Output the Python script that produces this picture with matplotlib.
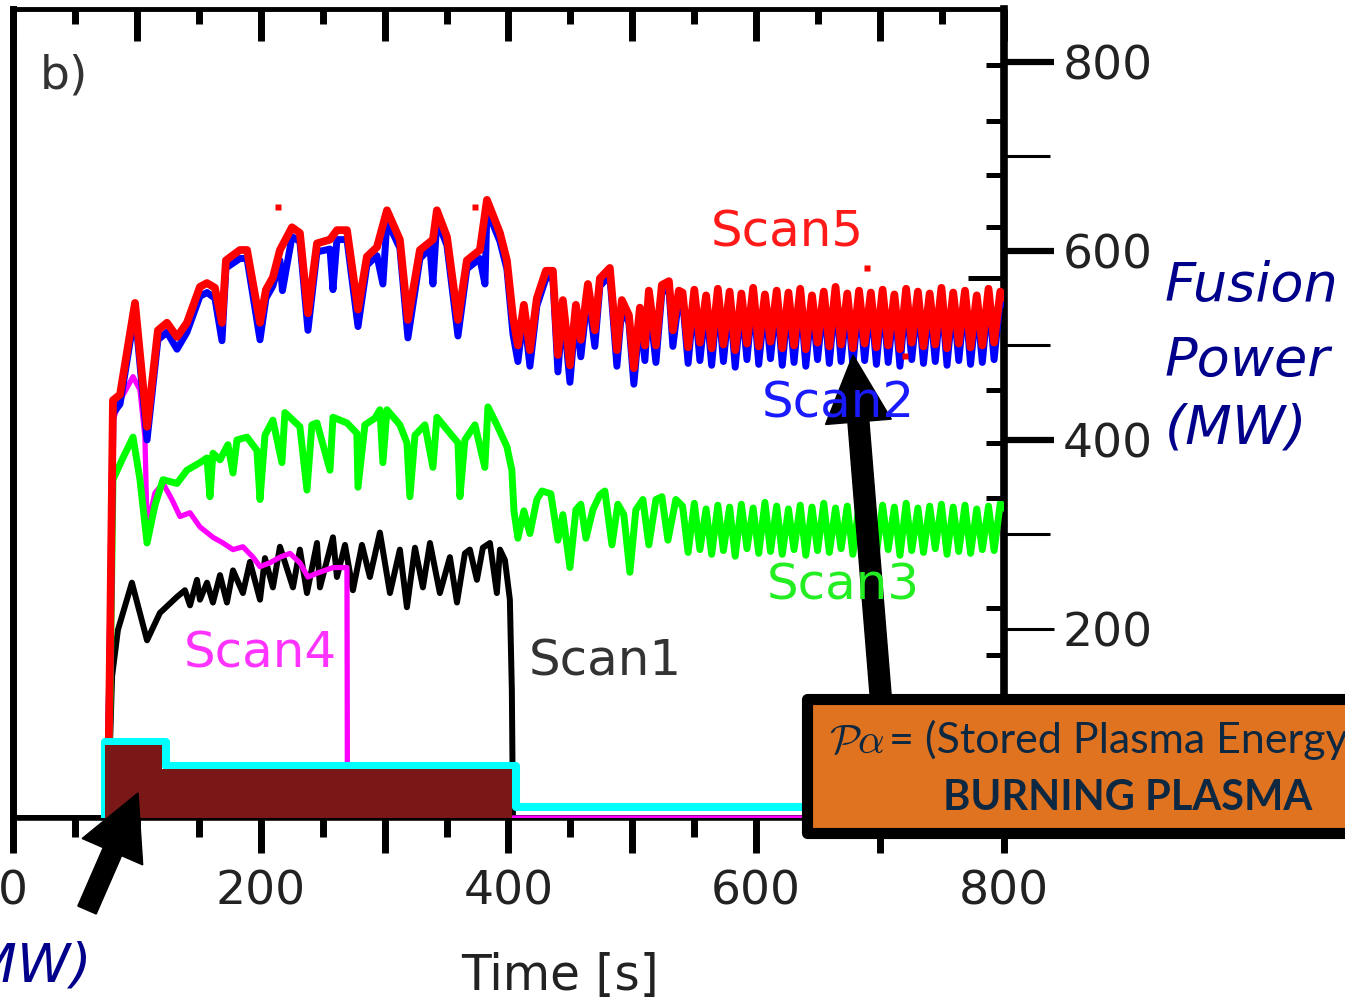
import matplotlib
matplotlib.use("Agg")
import matplotlib.pyplot as plt
from matplotlib.patches import Rectangle, FancyArrow
from matplotlib.ticker import MultipleLocator, FixedLocator, FuncFormatter

plt.rcParams['font.family'] = ['DejaVu Sans']
plt.rcParams['mathtext.fontset'] = 'cm'

# values: time [s] -> fusion power [MW]
# Scan5 (red), start-up and flat-top up to 400 s
scan5_t = [76.5, 78.3, 80.7, 86.4, 98.5, 108.2, 117.0, 124.3, 132.4, 140.4, 150.9, 156.6,
           163.0, 168.7, 171.9, 183.2, 188.9, 199.4, 204.2, 209.8, 215.5, 225.2, 231.6, 238.1,
           245.4, 255.9, 261.5, 269.6, 278.5, 285.7, 293.8, 301.9, 312.3, 318.8, 328.5, 339.0,
           342.2, 350.3, 359.2, 366.4, 376.9, 382.6, 393.1, 398.7, 403.6]
scan5_p = [0, 178, 442, 448, 545, 414, 516, 524, 509, 524, 562, 566,
           561, 524, 590, 601, 601, 524, 559, 572, 601, 625, 619, 534,
           608, 612, 622, 622, 538, 594, 604, 643, 612, 527, 601, 612,
           643, 615, 527, 590, 601, 654, 619, 590, 530]
# Scan2 (blue)
scan2_t = [75.9, 78.3, 80.7, 86.4, 98.5, 108.2, 117.0, 124.3, 132.4, 140.4, 150.9, 156.6,
           163.0, 168.7, 171.9, 183.2, 188.9, 199.4, 204.2, 209.8, 215.5, 217.5, 225.2, 231.6,
           238.1, 245.4, 255.9, 258.3, 261.5, 269.6, 278.5, 285.7, 293.8, 298.6, 301.9, 312.3,
           318.8, 328.5, 336.6, 339.0, 342.2, 350.3, 359.2, 366.4, 376.9, 381.0, 382.6, 393.1,
           398.7, 403.6]
scan2_p = [0, 165, 428, 438, 536, 400, 506, 514, 496, 514, 552, 556,
           550, 505, 582, 592, 592, 506, 550, 563, 590, 558, 615, 610,
           516, 599, 602, 559, 612, 612, 520, 585, 595, 565, 632, 603,
           508, 592, 603, 565, 633, 606, 510, 581, 592, 565, 644, 610,
           581, 512]
# 400-540 s, shared by Scan5 / Scan2
post_t = [407.6, 412.4, 417.3, 422.9, 430.2, 435.8, 439.9, 443.9, 449.6, 454.4, 458.4, 464.1,
          469.7, 473.8, 481.8, 487.5, 491.5, 497.2, 501.2, 506.1, 510.1, 513.3, 519.0, 523.8,
          529.5, 532.7, 537.5]
scan5_post = [500, 543, 495, 550, 579, 579, 490, 548, 479, 543, 506, 565,
              516, 571, 582, 495, 548, 532, 476, 540, 500, 558, 500, 564,
              568, 516, 558]
scan2_post = [483, 535, 478, 542, 571, 572, 472, 540, 461, 536, 488, 557,
              499, 563, 574, 478, 540, 524, 459, 532, 484, 550, 482, 556,
              560, 499, 550]
# steady burn 540-800 s (top / dip pairs)
steady_t = [540.5, 545, 550, 554.5, 559.5, 564, 569, 573.5, 578.5, 583,
            588, 592.5, 597.5, 602, 607, 611.5, 616.5, 621, 626, 630.5,
            635.5, 640, 645, 649.5, 654.5, 659, 664, 668.5, 673.5, 678,
            683, 687.5, 692.5, 697, 702, 706.5, 711.5, 716, 721, 725.5,
            730.5, 735, 740, 744.5, 749.5, 754, 759, 763.5, 768.5, 773,
            778, 782.5, 787.5, 792, 797, 800]
scan5_steady = [556, 498, 559, 503, 553, 497, 560, 501, 557, 495,
                555, 502, 561, 499, 554, 504, 558, 497, 556, 500,
                560, 496, 553, 503, 557, 499, 562, 501, 555, 497,
                558, 502, 556, 498, 559, 500, 554, 496, 560, 503,
                557, 499, 555, 501, 561, 497, 556, 502, 558, 498,
                553, 500, 560, 503, 557, 552]
scan2_steady = [549, 481, 552, 484, 546, 479, 553, 483, 550, 477,
                548, 485, 554, 480, 547, 486, 551, 479, 549, 482,
                553, 478, 546, 485, 550, 481, 555, 483, 548, 479,
                551, 484, 549, 480, 552, 482, 547, 478, 553, 485,
                550, 481, 548, 483, 554, 479, 549, 484, 551, 480,
                546, 482, 553, 485, 550, 545]
# Scan3 (green)
scan3_t = [76.5, 78.3, 80.7, 88.0, 96.9, 102.5, 108.2, 114.6, 121.1, 132.4, 140.4, 150.9,
           156.6, 159.0, 161.4, 167.1, 173.5, 177.6, 180.8, 188.9, 196.9, 199.4, 203.4, 209.8,
           217.1, 219.5, 231.6, 237.3, 241.3, 245.4, 255.9, 258.3, 269.6, 277.6, 278.5, 284.1,
           292.2, 296.2, 298.6, 301.9, 312.3, 318.0, 320.4, 324.5, 332.5, 339.0, 342.2, 350.3,
           359.2, 360.8, 364.8, 372.9, 380.9, 383.4, 390.6, 398.7, 402.7, 404.4,
           407.6, 412.4, 417.3, 422.9, 427.0, 434.2, 439.9, 443.9, 449.6, 454.4, 458.4, 462.5,
           468.1, 473.8, 477.8, 483.5, 488.3, 493.1, 498.0, 502.8, 508.5, 513.3, 519.0, 523.8,
           528.7, 535.1]
scan3_p = [0, 125, 358, 379, 403, 358, 291, 331, 358, 354, 368, 376,
           381, 340, 386, 379, 395, 365, 400, 403, 389, 337, 405, 421,
           376, 429, 414, 347, 416, 418, 368, 424, 418, 407, 350, 416,
           423, 432, 376, 432, 416, 397, 340, 405, 416, 371, 424, 411,
           397, 340, 400, 416, 371, 435, 416, 393, 368, 325,
           296, 325, 301, 337, 346, 343, 294, 321, 265, 326, 332, 296,
           326, 342, 346, 289, 332, 321, 260, 326, 337, 289, 337, 340,
           294, 337]
scan3_steady = [330, 281, 333, 284, 327, 279, 331, 283, 329, 277,
                332, 285, 328, 280, 334, 282, 330, 279, 327, 284,
                331, 278, 329, 283, 333, 281, 328, 285, 330, 279,
                332, 282, 327, 280, 331, 284, 329, 278, 333, 283,
                328, 281, 330, 285, 332, 279, 329, 282, 331, 280,
                327, 284, 330, 283, 333, 329]
# Scan1 (black)
scan1_t = [0, 76.5, 80.0, 84.7, 96.0, 108.2, 118.6, 132.4, 138.8, 142.9, 148.5, 150.9,
           156.6, 161.4, 167.1, 172.7, 177.6, 185.6, 191.3, 199.4, 203.4, 209.8, 215.5, 226.0,
           231.6, 237.3, 245.4, 247.8, 258.3, 261.5, 268.0, 274.4, 281.7, 288.1, 296.2, 304.3,
           312.3, 318.0, 324.5, 330.9, 336.6, 344.6, 352.7, 358.4, 364.8, 368.8, 374.5, 379.3,
           385.0, 390.6, 393.1, 397.1, 401.1, 402.7, 403.6, 800]
scan1_p = [0, 0, 150, 199, 249, 188, 217, 234, 241, 225, 252, 231,
           249, 228, 257, 228, 262, 238, 271, 231, 275, 244, 287, 244,
           284, 238, 291, 244, 297, 255, 289, 241, 289, 255, 302, 238,
           284, 223, 286, 244, 291, 238, 276, 228, 280, 284, 252, 286,
           291, 238, 284, 273, 231, 135, 0, 0]
# Scan4 (magenta)
scan4_t = [75.9, 78.3, 80.7, 86.4, 96.9, 102.5, 106.5, 108.2, 114.6, 121.1,
           128.3, 134.8, 142.9, 150.9, 161.4, 169.5, 177.6, 185.6, 193.7, 199.4,
           207.4, 215.5, 223.6, 231.6, 238.1, 245.4, 258.3, 269.6, 270.0, 800]
scan4_p = [0, 231, 421, 442, 467, 453, 403, 308, 344, 354,
           337, 319, 323, 308, 297, 291, 284, 287, 276, 266,
           270, 276, 280, 270, 255, 259, 265, 265, 0, 0]
# stray Scan5 points
dots_t = [213.9, 372.9, 689.3, 720.0]
dots_p = [647, 647, 582, 489]
# auxiliary heating (cyan) and the highlighted block
aux_t = [74.5, 74.5, 123.5, 123.5, 406, 406, 800]
aux_p = [0, 80, 80, 55, 55, 12, 12]
block_t = [74.5, 120, 120, 403]
block_p = [77, 77, 52, 52]

W, H = 1345, 1002
fig = plt.figure(figsize=(W / 100, H / 100), dpi=100)

def px_box(x0, y0, x1, y1):
    return [x0 / W, 1 - y1 / H, (x1 - x0) / W, (y1 - y0) / H]

ax = fig.add_axes(px_box(13, 9, 1004, 818))
ax_in = ax.twinx()
ax_top = ax.twiny()
ymax = 856

ax.plot(scan1_t, scan1_p, color='black', lw=4.3, zorder=3)
ax.plot(scan4_t, scan4_p, color='#ff00ff', lw=3.8, zorder=3)
ax.plot(scan3_t + steady_t, scan3_p + scan3_steady, color='#00ff00', lw=5, zorder=3)
ax.plot(scan2_t + post_t + steady_t, scan2_p + scan2_post + scan2_steady,
        color='#0000ff', lw=5, zorder=3)
ax.plot(scan5_t + post_t + steady_t, scan5_p + scan5_post + scan5_steady,
        color='#ff0000', lw=5.6, zorder=3)
ax.plot(dots_t, dots_p, 's', color='#ff0000', ms=4, mec='none', zorder=3)
ax.plot(aux_t, aux_p, color='#00ffff', lw=5.8, zorder=3)
ax.fill_between(block_t, 0, block_p, color='#7a1818', lw=0, zorder=3.5)

ax.set_xlim(0, 800)
ax.set_ylim(0, ymax)
ax.xaxis.set_major_locator(MultipleLocator(100))
ax.xaxis.set_minor_locator(MultipleLocator(50))
ax.xaxis.set_major_formatter(FuncFormatter(lambda v, p: f"{v:.0f}" if round(v) % 200 == 0 else ""))
ax.tick_params(axis='x', which='major', direction='out', length=25, width=5,
               labelsize=34, pad=12, labelcolor='#222222')
ax.tick_params(axis='x', which='minor', direction='out', length=14, width=5)

ax.yaxis.tick_right()
ax.yaxis.set_major_locator(FixedLocator([200, 400, 600, 800]))
ax.yaxis.set_minor_locator(FixedLocator([300, 500, 700]))
ax.tick_params(axis='y', which='major', direction='out', length=36, width=4.5,
               labelsize=34, pad=6, labelcolor='#222222', left=False, right=True)
ax.tick_params(axis='y', which='minor', direction='out', length=33, width=2.2,
               left=False, right=True)
ax.yaxis.get_major_ticks()[0].tick2line.set_markeredgewidth(2.2)
ax.spines['left'].set_linewidth(5)
ax.spines['right'].set_linewidth(5.5)
ax.spines['top'].set_linewidth(3.5)
ax.spines['bottom'].set_linewidth(4)

# original inner ticks of the right axis
ax_in.set_ylim(0, ymax)
ax_in.set_yticks([571])
ax_in.set_yticks([797, 737, 680, 625, 453, 397, 339, 222, 172], minor=True)
ax_in.tick_params(axis='y', which='major', direction='in', length=26, width=3.6, labelright=False)
ax_in.tick_params(axis='y', which='minor', direction='in', length=13, width=3.6, labelright=False)
for s in ax_in.spines.values():
    s.set_visible(False)

# top inner ticks
ax_top.set_xlim(0, 800)
ax_top.xaxis.set_major_locator(MultipleLocator(100))
ax_top.xaxis.set_minor_locator(MultipleLocator(50))
ax_top.tick_params(axis='x', which='major', direction='in', length=23, width=5, labeltop=False)
ax_top.tick_params(axis='x', which='minor', direction='in', length=11, width=5)
for s in ax_top.spines.values():
    s.set_visible(False)

# annotation layer in pixel coordinates
ov = fig.add_axes([0, 0, 1, 1])
ov.set_xlim(0, W)
ov.set_ylim(H, 0)
ov.axis('off')
ov.set_zorder(10)

ov.text(40, 88, 'b)', fontsize=34, color='#333333', ha='left', va='baseline')
ov.text(787, 246, 'Scan5', fontsize=36, color='#ff1a1a', ha='center', va='baseline')
ov.text(838, 418, 'Scan2', fontsize=36, color='#1a1aff', ha='center', va='baseline')
ov.text(843, 600, 'Scan3', fontsize=36, color='#22ee22', ha='center', va='baseline')
ov.text(260, 667, 'Scan4', fontsize=36, color='#ff33ff', ha='center', va='baseline')
ov.text(605, 676, 'Scan1', fontsize=36, color='#333333', ha='center', va='baseline')
ov.text(560, 990, 'Time [s]', fontsize=35, color='#222222', ha='center', va='baseline')

blue_lbl = dict(fontsize=39, style='italic', color='#00008b', va='baseline')
ov.text(1165, 301, 'Fusion', ha='left', **blue_lbl)
ov.text(1165, 376, 'Power', ha='left', **blue_lbl)
ov.text(1165, 443, '(MW)', ha='left', **blue_lbl)
ov.text(92, 981, '(MW)', ha='right', **blue_lbl)

ov.add_patch(FancyArrow(881, 700, -28, -345, width=21, head_width=66, head_length=67,
                        length_includes_head=True, color='black', zorder=2))
ov.add_patch(FancyArrow(87, 910, 51, -117, width=20, head_width=66, head_length=64,
                        length_includes_head=True, color='black', zorder=2))

ov.add_patch(Rectangle((807, 699), 700, 134, facecolor='#e0731f', edgecolor='black',
                       lw=8, joinstyle='round', zorder=3, clip_on=False))
navy = '#0e2841'
ov.text(829, 753, r'$\mathcal{P}\alpha$', fontsize=30, color=navy, ha='left', va='baseline', zorder=4)
ov.text(889, 753, '= (Stored Plasma Energy', fontsize=31, color=navy, family='Lato',
        ha='left', va='baseline', zorder=4)
ov.text(1128, 810, 'BURNING PLASMA', fontsize=30, color=navy, family='Lato', weight='bold',
        ha='center', va='baseline', zorder=4)

fig.savefig('out.png', dpi=100, facecolor='white')
